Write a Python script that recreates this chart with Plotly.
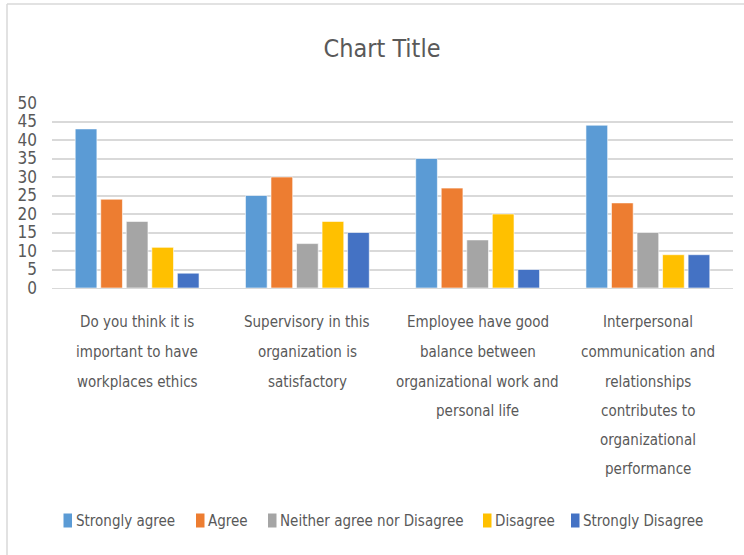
import plotly.graph_objects as go

categories = [
    "Do you think it is important to have workplaces ethics",
    "Supervisory in this organization is satisfactory",
    "Employee have good balance between organizational work and personal life",
    "Interpersonal communication and relationships contributes to organizational performance",
]
category_lines = [
    ["Do you think it is", "important to have", "workplaces ethics"],
    ["Supervisory in this", "organization is", "satisfactory"],
    ["Employee have good", "balance between", "organizational work and", "personal life"],
    ["Interpersonal", "communication and", "relationships", "contributes to", "organizational", "performance"],
]
series_names = ["Strongly agree", "Agree", "Neither agree nor Disagree", "Disagree", "Strongly Disagree"]
strongly_agree = [43, 25, 35, 44]
agree = [24, 30, 27, 23]
neither = [18, 12, 13, 15]
disagree = [11, 18, 20, 9]
strongly_disagree = [4, 15, 5, 9]
series_values = [strongly_agree, agree, neither, disagree, strongly_disagree]
colors = ["#5B9BD5", "#ED7D31", "#A5A5A5", "#FFC000", "#4472C4"]
y_ticks = [0, 5, 10, 15, 20, 25, 30, 35, 40, 45, 50]

FONT = "DejaVu Sans Condensed, Liberation Sans Narrow, sans-serif"
TXT = "#595959"

fig = go.Figure()
for name, vals, col in zip(series_names, series_values, colors):
    fig.add_trace(go.Bar(
        x=categories, y=vals, name=name, showlegend=False,
        marker=dict(color=col, line=dict(color="rgba(255,255,255,0.6)", width=1)),
    ))

# plot area geometry (pixels)
L, R, T, B = 52, 11, 103, 267
W, H = 744, 555
pw, ph = W - L - R, H - T - B


def px_x(v):
    return (v - L) / pw


def px_y(v):
    return (T + ph - v) / ph


annotations = []
# wrapped category labels under each group
line_centers = [322, 352, 381.5, 410.5, 440, 468.5]
for cat, lines in zip(categories, category_lines):
    for i, txt in enumerate(lines):
        annotations.append(dict(
            x=cat, xref="x", y=0, yref="paper",
            yshift=-(line_centers[i] - (T + ph)),
            text=txt, showarrow=False, xanchor="center", yanchor="middle",
            font=dict(family=FONT, size=15, color=TXT),
        ))

shapes = [
    dict(type="line", xref="paper", yref="paper", x0=px_x(7), x1=px_x(7), y0=px_y(4), y1=px_y(560),
         line=dict(color="#D9D9D9", width=1.5)),
    dict(type="line", xref="paper", yref="paper", x0=px_x(7), x1=px_x(750), y0=px_y(4), y1=px_y(4),
         line=dict(color="#D9D9D9", width=1.5)),
]

# legend (one row, Excel style: small square key followed by its label)
legend_key_x = [63.5, 196, 268, 483, 571]
legend_y = 520.5
for name, col, kx in zip(series_names, colors, legend_key_x):
    shapes.append(dict(type="rect", xref="paper", yref="paper",
                       x0=px_x(kx), x1=px_x(kx + 8.5), y0=px_y(legend_y - 7), y1=px_y(legend_y + 7),
                       fillcolor=col, line=dict(width=0)))
    annotations.append(dict(x=px_x(kx + 12), xref="paper", y=px_y(legend_y), yref="paper",
                            text=name, showarrow=False, xanchor="left", yanchor="middle",
                            xshift=-2,
                            font=dict(family=FONT, size=15, color=TXT)))

fig.update_layout(
    width=W, height=H,
    margin=dict(l=L, r=R, t=T, b=B, autoexpand=False),
    paper_bgcolor="white", plot_bgcolor="white",
    title=dict(text="Chart Title", x=382 / W, xanchor="center",
               y=1 - 48 / H, yanchor="middle",
               font=dict(family=FONT, size=25, color=TXT)),
    barmode="group", bargap=0.25, bargroupgap=0.15,
    font=dict(family=FONT, color=TXT),
    xaxis=dict(showticklabels=False, showgrid=False, showline=True, linecolor="#D9D9D9",
               linewidth=1, ticks="", zeroline=False),
    yaxis=dict(range=[0, 50], tickvals=y_ticks, showgrid=True, gridcolor="#D9D9D9", gridwidth=1.5,
               zeroline=False, showline=False, ticks="", ticklabelstandoff=14,
               tickfont=dict(family=FONT, size=17, color=TXT)),
    annotations=annotations,
    shapes=shapes,
    showlegend=False,
)

fig.write_html("out.html", config={"displayModeBar": False},
               post_script="document.body.style.margin='0';document.body.style.padding='0';")
